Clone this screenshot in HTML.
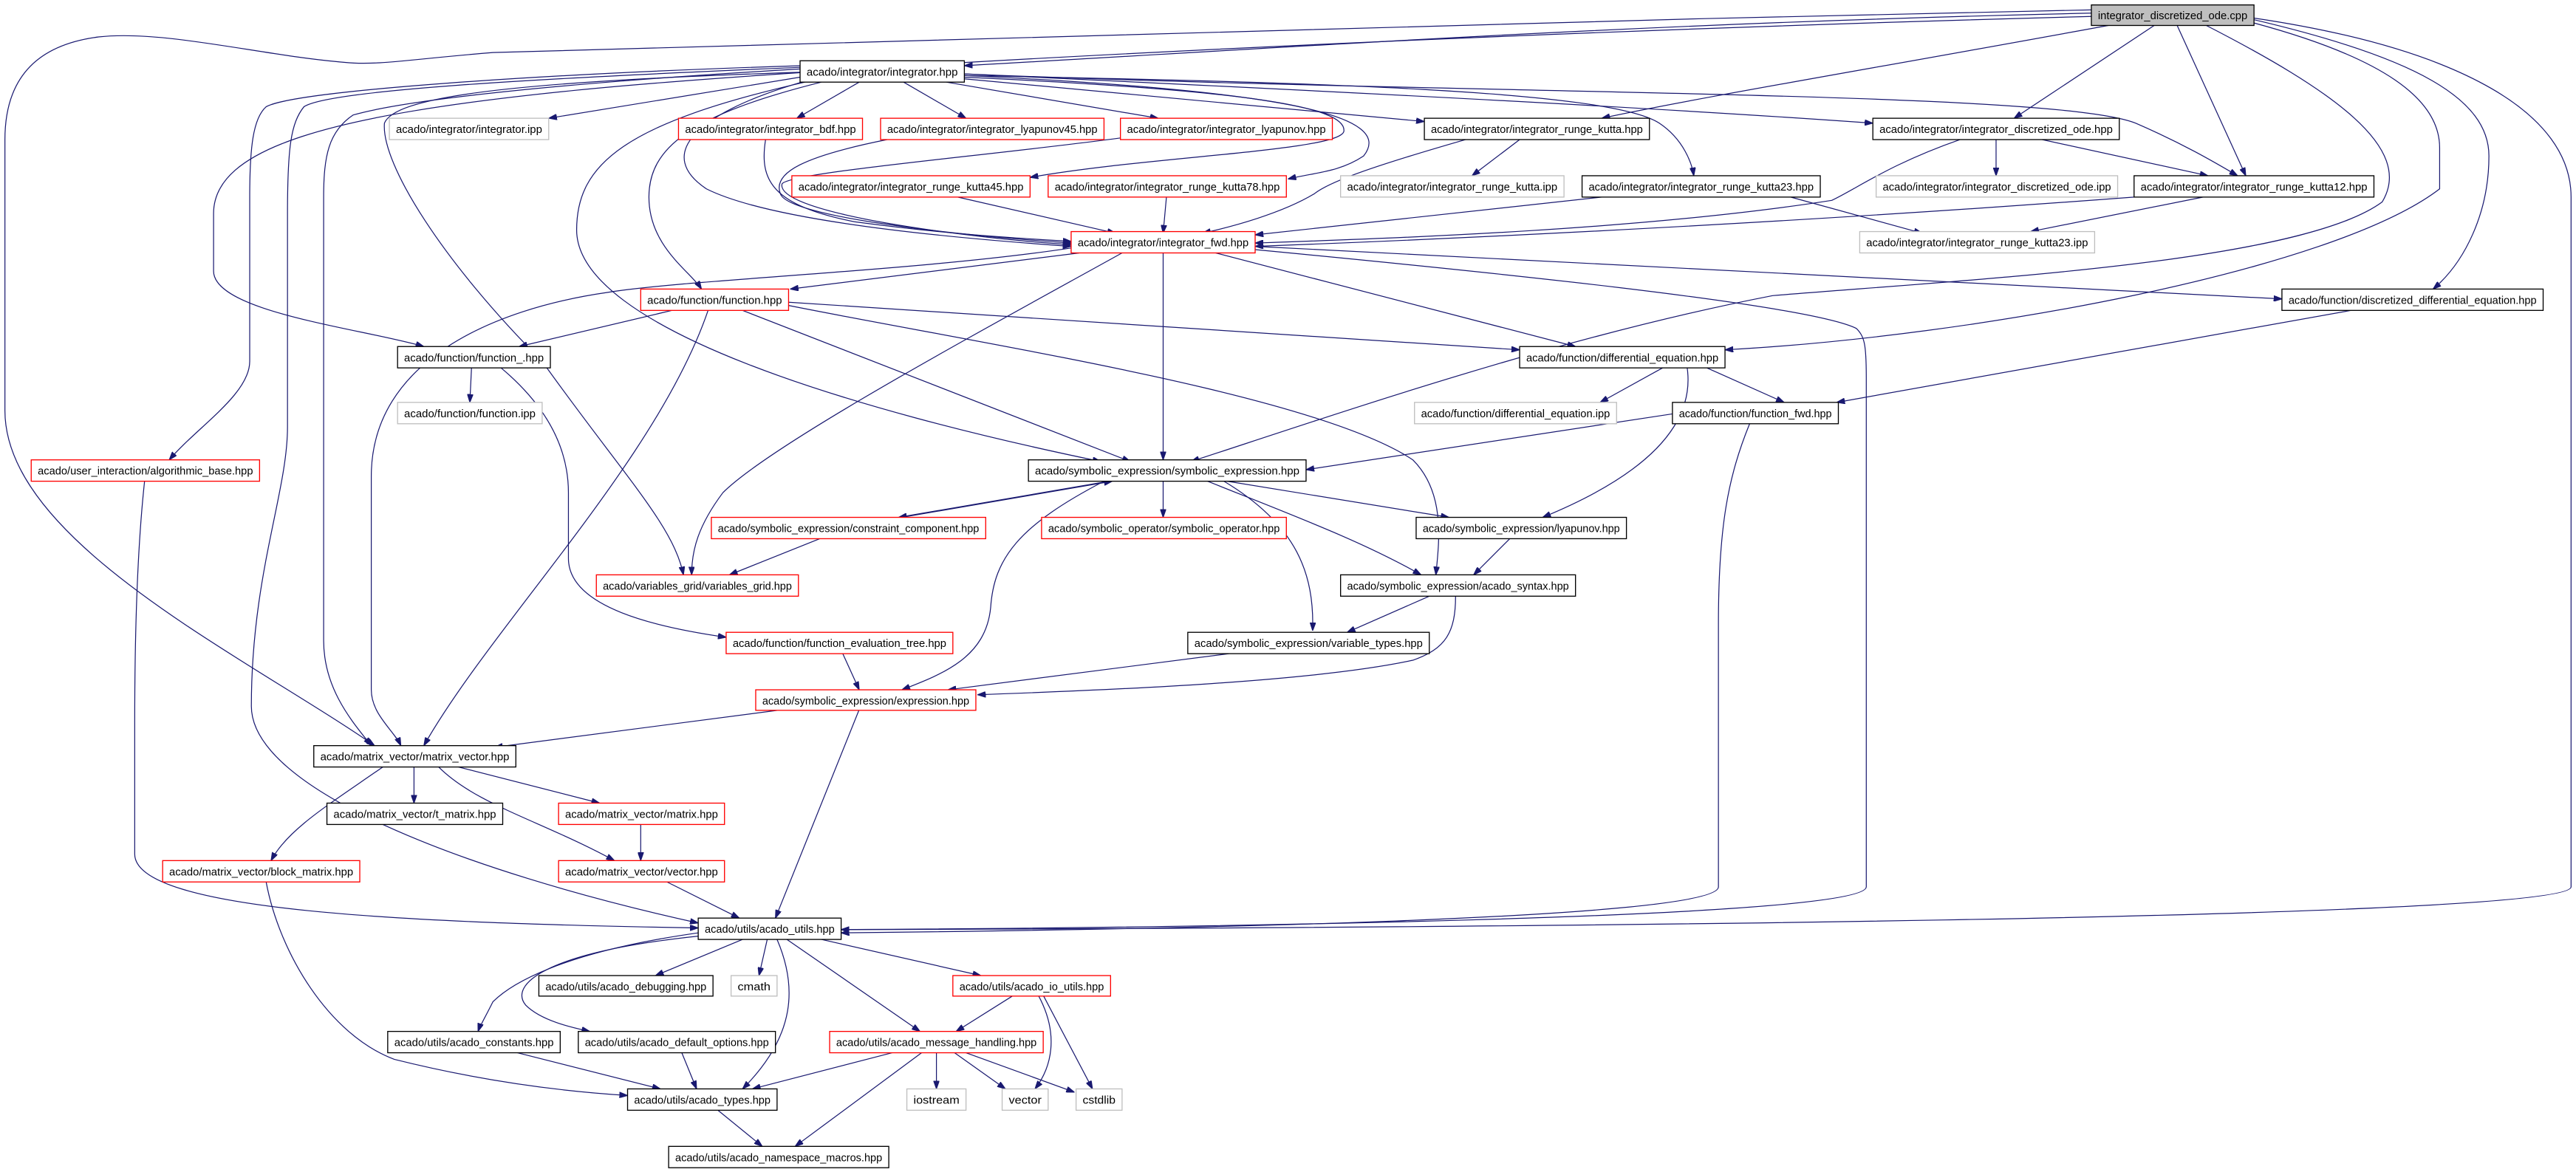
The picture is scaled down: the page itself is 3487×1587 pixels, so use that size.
<!DOCTYPE html>
<html><head><meta charset="utf-8"><style>
html,body{margin:0;padding:0;background:#fff;}
svg{display:block;}
.e{fill:none;stroke:#191970;stroke-width:0.55;}
.n rect{fill:#fff;stroke:#000;stroke-width:0.6;}
.r rect{fill:#fff;stroke:#ff0000;stroke-width:0.6;}
.g rect{fill:#fff;stroke:#bfbfbf;stroke-width:0.6;}
text{font-family:"Liberation Sans",sans-serif;font-size:6.6px;fill:#000;text-anchor:middle;}
</style></head><body>
<svg width="3487" height="1587" viewBox="0 0 1568 713.6" preserveAspectRatio="none" xmlns="http://www.w3.org/2000/svg">
<defs><marker id="a" viewBox="0 0 10 7" refX="10" refY="3.5" markerWidth="5" markerHeight="3.6" markerUnits="userSpaceOnUse" orient="auto"><path d="M0,0 L10,3.5 L0,7 z" fill="#191970" stroke="#191970"/></marker></defs>
<g class="e" marker-end="url(#a)">
<path d="M1273,8 C1000,14 800,28 587,40"/>
<path d="M1273,6 C900,14 450,26 300,32 C250,36 230,40 210,38 C160,34 100,18 60,22.5 C25,27 3,45 3,85 L3,250 C3,330 150,400 228,454"/>
<path d="M1273,10 C900,20 500,40 350,55 C200,70 130,90 130,130 L130,165 C130,190 220,200 258,211"/>
<path d="M1286,15 C1150,40 1030,60 975,72"/>
<path d="M1312,15 L1226,72"/>
<path d="M1325,15 L1367,107"/>
<path d="M587,45 C900,58 1250,55 1300,75 C1330,88 1350,100 1362,107"/>
<path d="M1342,15 C1420,55 1470,90 1450,123 C1400,160 1200,170 1079,180 C950,205 820,250 725,281"/>
<path d="M1372,14 C1450,35 1485,60 1485,90 L1485,115 C1420,165 1200,205 1050,213"/>
<path d="M1372,12 C1470,35 1515,60 1515,95 C1515,130 1500,160 1481,176"/>
<path d="M1372,11 C1500,30 1565,70 1565,120 L1565,540 C1565,560 900,565 512,566"/>
<path d="M487,47 L334,72"/>
<path d="M523,50 L485,72"/>
<path d="M550,50 L588,72"/>
<path d="M576,50 L705,72"/>
<path d="M587,48 L867,74"/>
<path d="M587,45 C800,55 1000,65 1140,75"/>
<path d="M587,46 C800,50 980,55 1010,75 C1025,85 1030,100 1031,107"/>
<path d="M587,47 C760,55 820,65 818,80 C815,92 700,95 627,108"/>
<path d="M587,46 C780,55 850,70 830,95 C815,105 800,105 784,109"/>
<path d="M466,85 C462,110 470,125 520,135 C580,143 620,145 652,147"/>
<path d="M540,85 C490,95 470,105 475,118 C480,132 580,143 652,148"/>
<path d="M682,84 C600,95 480,105 476,112 C472,130 590,145 652,149"/>
<path d="M488,50 C420,70 400,95 430,115 C470,135 580,145 652,150"/>
<path d="M583,120 L679,142"/>
<path d="M710,120 L708,142"/>
<path d="M892,85 C840,100 810,110 800,118 C780,130 750,138 732,142"/>
<path d="M975,120 L764,143"/>
<path d="M1193,85 C1150,100 1130,115 1115,122 C1000,140 850,145 764,148"/>
<path d="M1299,120 C1100,135 900,145 764,150"/>
<path d="M925,85 L896,107"/>
<path d="M1090,120 L1170,142"/>
<path d="M1341,120 L1236,141"/>
<path d="M1215,85 L1215,107"/>
<path d="M1243,85 L1344,107"/>
<path d="M500,50 C420,70 395,90 395,120 C395,150 420,165 427,176"/>
<path d="M490,50 C380,75 351,100 351,140 C351,200 520,250 670,281"/>
<path d="M487,44 C300,50 240,60 234,75 C232,100 270,160 330,220 C380,290 410,320 416,350"/>
<path d="M487,42 C350,50 250,60 215,70 C200,80 197,95 197,120 L197,390 C197,420 215,440 226,454"/>
<path d="M487,41 C320,48 200,55 185,65 C177,75 175,90 175,130 L175,260 C175,300 153,350 153,430 C153,480 280,530 425,562"/>
<path d="M487,40 C330,45 180,55 162,65 C154,72 152,90 152,120 L152,220 C152,240 120,260 103,280"/>
<path d="M88,293 C84,330 82,380 82,440 L82,520 C82,555 250,562 425,565"/>
<path d="M657,154 L481,176"/>
<path d="M652,151 C560,165 420,170 370,178 C300,188 226,220 226,290 L226,420 C226,435 240,445 244,454"/>
<path d="M683,154 C600,200 470,270 440,300 C425,320 421,335 421,350"/>
<path d="M708,154 L708,280"/>
<path d="M740,154 L959,211"/>
<path d="M764,150 L1389,182"/>
<path d="M764,152 C900,165 1100,185 1130,200 C1135,205 1136,210 1136,230 L1136,540 C1136,560 700,565 512,566"/>
<path d="M409,189 L316,211"/>
<path d="M431,189 C400,280 300,380 258,454"/>
<path d="M452,189 L688,281"/>
<path d="M480,184 L925,213"/>
<path d="M480,186 C600,210 800,240 860,280 C880,300 876,330 874,350"/>
<path d="M287,224 L286,245"/>
<path d="M305,224 C330,245 346,270 346,300 L346,340 C346,370 400,382 442,388"/>
<path d="M1012,224 L974,245"/>
<path d="M1039,224 L1086,245"/>
<path d="M1027,224 C1032,260 1000,290 939,315"/>
<path d="M1431,189 L1118,245"/>
<path d="M1018,252 L795,286"/>
<path d="M1065,258 C1052,290 1046,320 1046,380 L1046,540 C1046,560 700,566 512,568"/>
<path d="M675,293 L547,315"/>
<path d="M549,315 L677,293"/>
<path d="M708,293 L708,315"/>
<path d="M747,293 L882,315"/>
<path d="M735,293 C790,315 830,330 865,350"/>
<path d="M745,293 C790,320 800,350 799,384"/>
<path d="M672,293 C620,320 605,340 603,370 C600,400 575,410 549,420"/>
<path d="M499,328 L444,350"/>
<path d="M919,328 L897,350"/>
<path d="M870,363 L820,385"/>
<path d="M886,363 C886,385 880,395 860,402 C800,415 680,420 595,423"/>
<path d="M513,398 L523,420"/>
<path d="M748,398 L577,420"/>
<path d="M477,432 L301,455"/>
<path d="M523,432 L472,559"/>
<path d="M252,467 L252,489"/>
<path d="M279,467 L365,489"/>
<path d="M267,467 C290,490 330,500 374,524"/>
<path d="M233,467 C200,490 175,505 165,524"/>
<path d="M390,502 L390,524"/>
<path d="M406,537 L450,559"/>
<path d="M162,537 C170,580 200,630 240,645 C300,660 350,665 382,667"/>
<path d="M452,572 L399,594"/>
<path d="M467,572 L462,594"/>
<path d="M500,572 L597,594"/>
<path d="M425,568 C340,580 310,600 300,610 C295,620 292,625 291,628"/>
<path d="M425,570 C330,580 310,600 320,612 C330,622 350,626 359,628"/>
<path d="M479,572 L560,628"/>
<path d="M473,572 C485,600 485,630 452,663"/>
<path d="M617,606 L582,628"/>
<path d="M632,606 C645,630 640,650 630,663"/>
<path d="M635,606 L665,663"/>
<path d="M315,641 L402,663"/>
<path d="M415,641 L424,663"/>
<path d="M543,641 L458,663"/>
<path d="M570,641 L570,663"/>
<path d="M581,641 L612,663"/>
<path d="M588,641 L654,665"/>
<path d="M561,641 L484,698"/>
<path d="M437,676 L464,698"/>
</g>
<g class="n"><rect x="1273" y="3" width="99" height="12.5" style="fill:#bfbfbf"/><text x="1322.5" y="11.8" textLength="91" lengthAdjust="spacingAndGlyphs">integrator_discretized_ode.cpp</text></g>
<g class="n"><rect x="487" y="37" width="100" height="13"/><text x="537" y="46" textLength="92" lengthAdjust="spacingAndGlyphs">acado/integrator/integrator.hpp</text></g>
<g class="g"><rect x="237" y="72" width="97" height="13"/><text x="285.5" y="81" textLength="89" lengthAdjust="spacingAndGlyphs">acado/integrator/integrator.ipp</text></g>
<g class="r"><rect x="413" y="72" width="112" height="13"/><text x="469" y="81" textLength="104" lengthAdjust="spacingAndGlyphs">acado/integrator/integrator_bdf.hpp</text></g>
<g class="r"><rect x="536" y="72" width="136" height="13"/><text x="604" y="81" textLength="128" lengthAdjust="spacingAndGlyphs">acado/integrator/integrator_lyapunov45.hpp</text></g>
<g class="r"><rect x="682" y="72" width="129" height="13"/><text x="746.5" y="81" textLength="121" lengthAdjust="spacingAndGlyphs">acado/integrator/integrator_lyapunov.hpp</text></g>
<g class="n"><rect x="867" y="72" width="137" height="13"/><text x="935.5" y="81" textLength="129" lengthAdjust="spacingAndGlyphs">acado/integrator/integrator_runge_kutta.hpp</text></g>
<g class="n"><rect x="1140" y="72" width="150" height="13"/><text x="1215" y="81" textLength="142" lengthAdjust="spacingAndGlyphs">acado/integrator/integrator_discretized_ode.hpp</text></g>
<g class="r"><rect x="482" y="107" width="145" height="13"/><text x="554.5" y="116" textLength="137" lengthAdjust="spacingAndGlyphs">acado/integrator/integrator_runge_kutta45.hpp</text></g>
<g class="r"><rect x="638" y="107" width="145" height="13"/><text x="710.5" y="116" textLength="137" lengthAdjust="spacingAndGlyphs">acado/integrator/integrator_runge_kutta78.hpp</text></g>
<g class="g"><rect x="816" y="107" width="136" height="13"/><text x="884" y="116" textLength="128" lengthAdjust="spacingAndGlyphs">acado/integrator/integrator_runge_kutta.ipp</text></g>
<g class="n"><rect x="963" y="107" width="145" height="13"/><text x="1035.5" y="116" textLength="137" lengthAdjust="spacingAndGlyphs">acado/integrator/integrator_runge_kutta23.hpp</text></g>
<g class="g"><rect x="1142" y="107" width="147" height="13"/><text x="1215.5" y="116" textLength="139" lengthAdjust="spacingAndGlyphs">acado/integrator/integrator_discretized_ode.ipp</text></g>
<g class="n"><rect x="1299" y="107" width="146" height="13"/><text x="1372" y="116" textLength="138" lengthAdjust="spacingAndGlyphs">acado/integrator/integrator_runge_kutta12.hpp</text></g>
<g class="r"><rect x="652" y="141" width="112" height="13"/><text x="708" y="150" textLength="104" lengthAdjust="spacingAndGlyphs">acado/integrator/integrator_fwd.hpp</text></g>
<g class="g"><rect x="1132" y="141" width="143" height="13"/><text x="1203.5" y="150" textLength="135" lengthAdjust="spacingAndGlyphs">acado/integrator/integrator_runge_kutta23.ipp</text></g>
<g class="r"><rect x="390" y="176" width="90" height="13"/><text x="435" y="185" textLength="82" lengthAdjust="spacingAndGlyphs">acado/function/function.hpp</text></g>
<g class="n"><rect x="1389" y="176" width="159" height="13"/><text x="1468.5" y="185" textLength="151" lengthAdjust="spacingAndGlyphs">acado/function/discretized_differential_equation.hpp</text></g>
<g class="n"><rect x="242" y="211" width="93" height="13"/><text x="288.5" y="220" textLength="85" lengthAdjust="spacingAndGlyphs">acado/function/function_.hpp</text></g>
<g class="n"><rect x="925" y="211" width="125" height="13"/><text x="987.5" y="220" textLength="117" lengthAdjust="spacingAndGlyphs">acado/function/differential_equation.hpp</text></g>
<g class="g"><rect x="242" y="245" width="88" height="13"/><text x="286" y="254" textLength="80" lengthAdjust="spacingAndGlyphs">acado/function/function.ipp</text></g>
<g class="g"><rect x="861" y="245" width="123" height="13"/><text x="922.5" y="254" textLength="115" lengthAdjust="spacingAndGlyphs">acado/function/differential_equation.ipp</text></g>
<g class="n"><rect x="1018" y="245" width="101" height="13"/><text x="1068.5" y="254" textLength="93" lengthAdjust="spacingAndGlyphs">acado/function/function_fwd.hpp</text></g>
<g class="r"><rect x="19" y="280" width="139" height="13"/><text x="88.5" y="289" textLength="131" lengthAdjust="spacingAndGlyphs">acado/user_interaction/algorithmic_base.hpp</text></g>
<g class="n"><rect x="626" y="280" width="169" height="13"/><text x="710.5" y="289" textLength="161" lengthAdjust="spacingAndGlyphs">acado/symbolic_expression/symbolic_expression.hpp</text></g>
<g class="r"><rect x="433" y="315" width="167" height="13"/><text x="516.5" y="324" textLength="159" lengthAdjust="spacingAndGlyphs">acado/symbolic_expression/constraint_component.hpp</text></g>
<g class="r"><rect x="634" y="315" width="149" height="13"/><text x="708.5" y="324" textLength="141" lengthAdjust="spacingAndGlyphs">acado/symbolic_operator/symbolic_operator.hpp</text></g>
<g class="n"><rect x="862" y="315" width="128" height="13"/><text x="926" y="324" textLength="120" lengthAdjust="spacingAndGlyphs">acado/symbolic_expression/lyapunov.hpp</text></g>
<g class="r"><rect x="363" y="350" width="123" height="13"/><text x="424.5" y="359" textLength="115" lengthAdjust="spacingAndGlyphs">acado/variables_grid/variables_grid.hpp</text></g>
<g class="n"><rect x="816" y="350" width="143" height="13"/><text x="887.5" y="359" textLength="135" lengthAdjust="spacingAndGlyphs">acado/symbolic_expression/acado_syntax.hpp</text></g>
<g class="r"><rect x="442" y="385" width="138" height="13"/><text x="511" y="394" textLength="130" lengthAdjust="spacingAndGlyphs">acado/function/function_evaluation_tree.hpp</text></g>
<g class="n"><rect x="723" y="385" width="147" height="13"/><text x="796.5" y="394" textLength="139" lengthAdjust="spacingAndGlyphs">acado/symbolic_expression/variable_types.hpp</text></g>
<g class="r"><rect x="460" y="420" width="134" height="12.5"/><text x="527" y="429" textLength="126" lengthAdjust="spacingAndGlyphs">acado/symbolic_expression/expression.hpp</text></g>
<g class="n"><rect x="191" y="454" width="123" height="13"/><text x="252.5" y="463" textLength="115" lengthAdjust="spacingAndGlyphs">acado/matrix_vector/matrix_vector.hpp</text></g>
<g class="n"><rect x="199" y="489" width="107" height="13"/><text x="252.5" y="498" textLength="99" lengthAdjust="spacingAndGlyphs">acado/matrix_vector/t_matrix.hpp</text></g>
<g class="r"><rect x="340" y="489" width="101" height="13"/><text x="390.5" y="498" textLength="93" lengthAdjust="spacingAndGlyphs">acado/matrix_vector/matrix.hpp</text></g>
<g class="r"><rect x="99" y="524" width="120" height="13"/><text x="159" y="533" textLength="112" lengthAdjust="spacingAndGlyphs">acado/matrix_vector/block_matrix.hpp</text></g>
<g class="r"><rect x="340" y="524" width="101" height="13"/><text x="390.5" y="533" textLength="93" lengthAdjust="spacingAndGlyphs">acado/matrix_vector/vector.hpp</text></g>
<g class="n"><rect x="425" y="559" width="87" height="13"/><text x="468.5" y="568" textLength="79" lengthAdjust="spacingAndGlyphs">acado/utils/acado_utils.hpp</text></g>
<g class="n"><rect x="328" y="594" width="106" height="12.5"/><text x="381" y="603" textLength="98" lengthAdjust="spacingAndGlyphs">acado/utils/acado_debugging.hpp</text></g>
<g class="g"><rect x="445" y="594" width="28" height="12.5"/><text x="459" y="603" textLength="20" lengthAdjust="spacingAndGlyphs">cmath</text></g>
<g class="r"><rect x="580" y="594" width="96" height="12.5"/><text x="628" y="603" textLength="88" lengthAdjust="spacingAndGlyphs">acado/utils/acado_io_utils.hpp</text></g>
<g class="n"><rect x="236" y="628" width="105" height="13"/><text x="288.5" y="637" textLength="97" lengthAdjust="spacingAndGlyphs">acado/utils/acado_constants.hpp</text></g>
<g class="n"><rect x="352" y="628" width="120" height="13"/><text x="412" y="637" textLength="112" lengthAdjust="spacingAndGlyphs">acado/utils/acado_default_options.hpp</text></g>
<g class="r"><rect x="505" y="628" width="130" height="13"/><text x="570" y="637" textLength="122" lengthAdjust="spacingAndGlyphs">acado/utils/acado_message_handling.hpp</text></g>
<g class="n"><rect x="382" y="663" width="91" height="13"/><text x="427.5" y="672" textLength="83" lengthAdjust="spacingAndGlyphs">acado/utils/acado_types.hpp</text></g>
<g class="g"><rect x="552" y="663" width="36" height="13"/><text x="570" y="672" textLength="28" lengthAdjust="spacingAndGlyphs">iostream</text></g>
<g class="g"><rect x="610" y="663" width="28" height="13"/><text x="624" y="672" textLength="20" lengthAdjust="spacingAndGlyphs">vector</text></g>
<g class="g"><rect x="655" y="663" width="28" height="13"/><text x="669" y="672" textLength="20" lengthAdjust="spacingAndGlyphs">cstdlib</text></g>
<g class="n"><rect x="407" y="698" width="134" height="13"/><text x="474" y="707" textLength="126" lengthAdjust="spacingAndGlyphs">acado/utils/acado_namespace_macros.hpp</text></g>
</svg>
</body></html>
